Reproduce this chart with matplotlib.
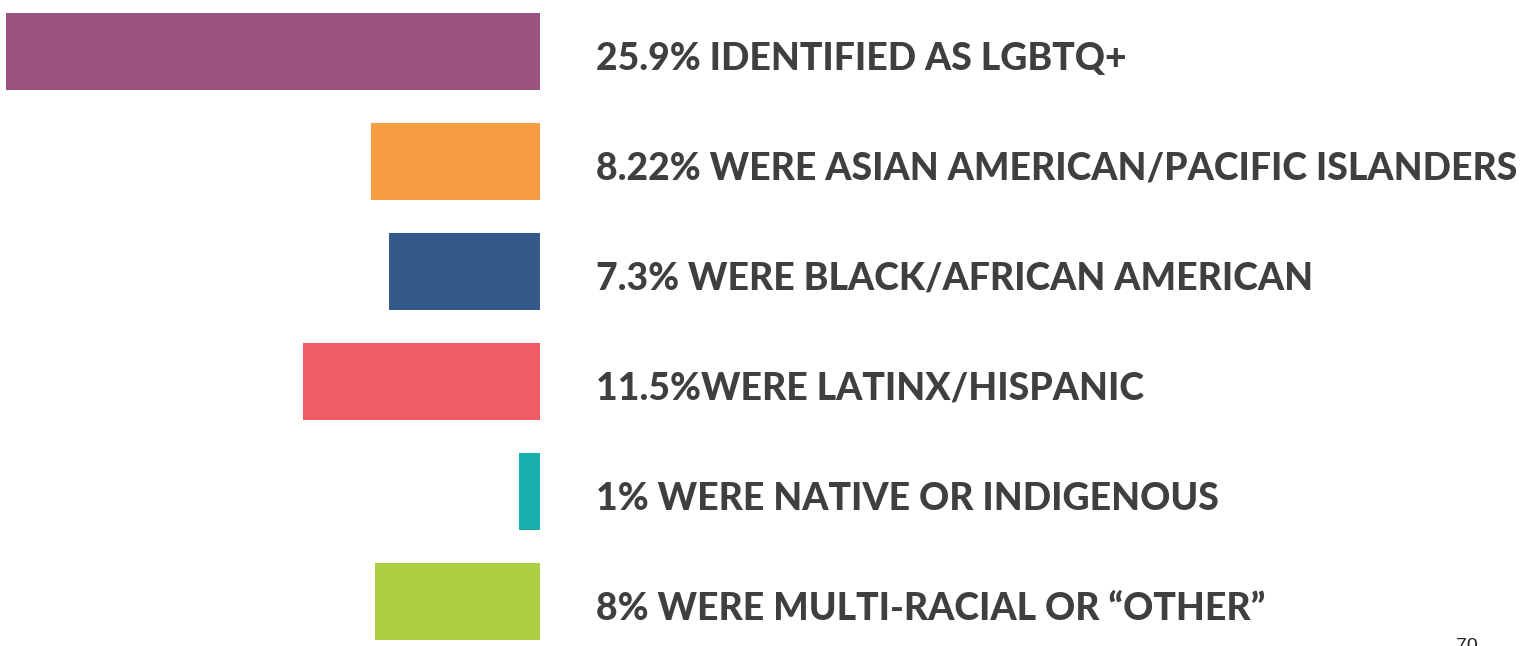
import matplotlib.pyplot as plt

# data
labels = [
    "25.9% IDENTIFIED AS LGBTQ+",
    "8.22% WERE ASIAN AMERICAN/PACIFIC ISLANDERS",
    "7.3% WERE BLACK/AFRICAN AMERICAN",
    "11.5%WERE LATINX/HISPANIC",
    "1% WERE NATIVE OR INDIGENOUS",
    "8% WERE MULTI-RACIAL OR \u201cOTHER\u201d",
]
values = [25.9, 8.22, 7.3, 11.5, 1.0, 8.0]
colors = ["#9b547f", "#f79b42", "#355a8a", "#f05c63", "#1aafad", "#acce42"]

W, H = 1527, 646
fig = plt.figure(figsize=(W / 100, H / 100), dpi=100)

# bars grow leftward from x=540px, full length at x=6px
ax = fig.add_axes([6 / W, 0, 534 / W, 1])
ypos = list(range(len(values)))
ax.barh(ypos, values, height=0.7, color=colors)
ax.set_xlim(values[0], 0)
ax.set_ylim(5.405, -0.468)
ax.axis("off")

for y, lab in zip(ypos, labels):
    ax.annotate(lab, xy=(1, y), xycoords=("axes fraction", "data"),
                xytext=(56 * 0.72, -18.5 * 0.72), textcoords="offset points",
                ha="left", va="baseline", fontsize=26.9, fontweight="black",
                family="Lato", color="#3f3f3f", annotation_clip=False)

# page number, cut off by the bottom edge
fig.text(1467 / W, -5 / H, "70", ha="center", va="baseline", fontsize=14,
         family="Liberation Sans", color="#222222")

fig.savefig("out.png", dpi=100)
